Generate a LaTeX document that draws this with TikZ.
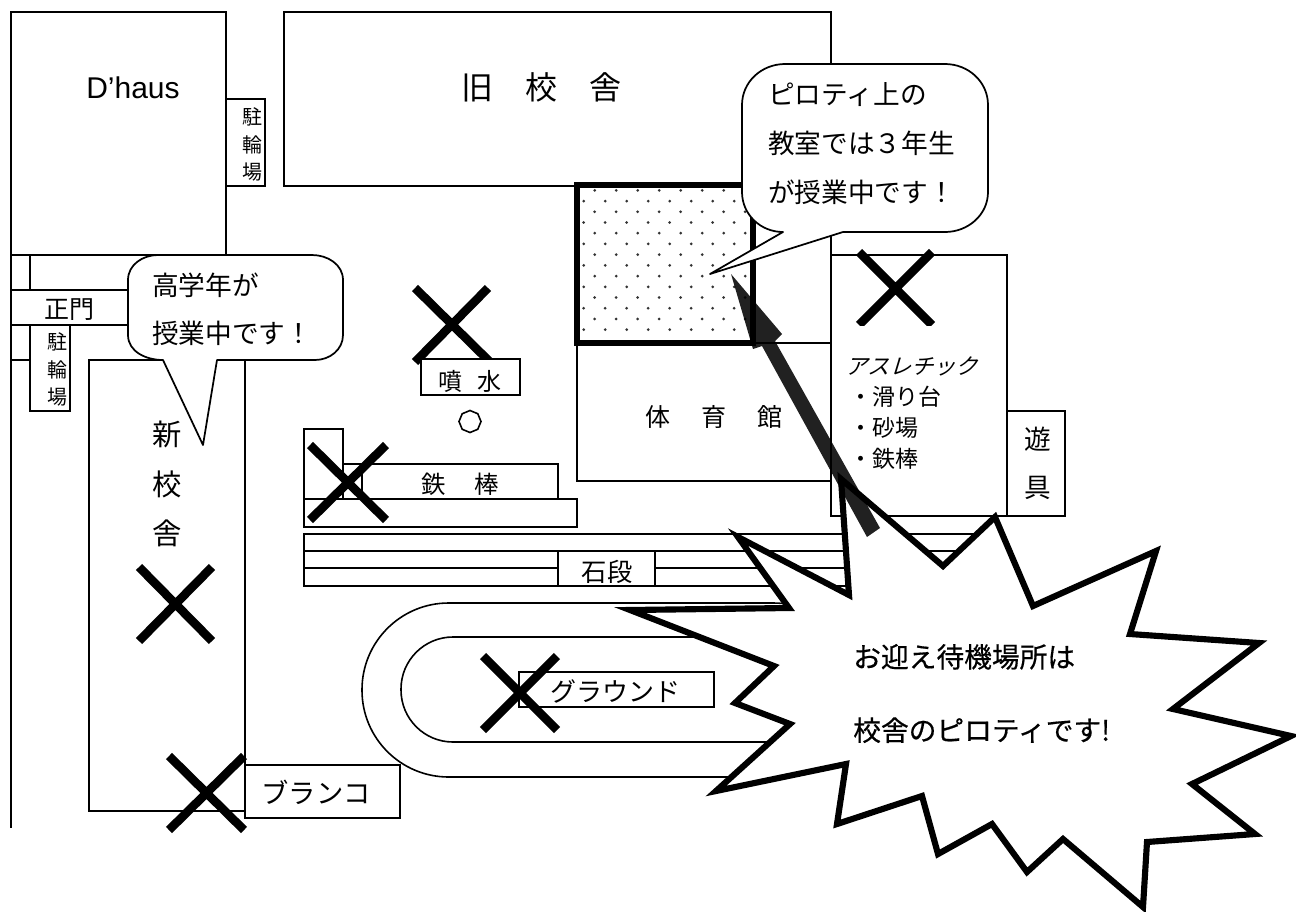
\documentclass[tikz,border=0pt]{standalone}
\usetikzlibrary{shapes.geometric}
\usepackage{fontspec}
\setmainfont{Noto Sans CJK JP}
\newfontfamily\latinf{Liberation Sans}
\newfontfamily\boldjp[FakeBold=0.5]{Noto Sans CJK JP}
\newcommand{\fz}[2]{\fontsize{#1pt}{#2pt}\selectfont}
\tikzset{
  wall/.style={draw=black,line width=1.2pt,fill=white},
  bigx/.style={draw=black,line width=6.5pt},
  callout/.style={draw=black,line width=1.3pt,fill=white,line join=round},
  lbl/.style={inner sep=0pt,align=center,text=black},
  lft/.style={inner sep=0pt,align=left,anchor=west,text=black}
}
\begin{document}
\begin{tikzpicture}[x=0.75pt,y=-0.75pt]
\useasboundingbox (0,0) rectangle (1296,911);
% ---- buildings
\draw[wall] (11,12) rectangle (226,255);
\draw[wall] (11,255) -- (245,255);
\draw[wall] (11,12) -- (11,828);
\draw[wall] (30,255) -- (30,290);
\draw[wall] (11,290) rectangle (140,325);
\draw[wall] (11,360) -- (30,360);
\draw[wall] (30,325) rectangle (70,411);
\draw[wall] (89,360) rectangle (245,811);
\draw[wall] (226,99) rectangle (265,186);
\draw[wall] (284,12) rectangle (831,186);
\draw[wall] (831,186) -- (831,255);
\draw[wall] (577,343) rectangle (831,481);
\draw[wall] (831,255) rectangle (1007,516);
\draw[wall] (1007,411) rectangle (1065,516);
\node[regular polygon,regular polygon sides=8,shape border rotate=22.5,draw=black,line width=1.2pt,minimum size=16.5pt,inner sep=0pt] (spout) at (470,421.5) {};
% ---- bars and steps
\draw[wall] (304,429) rectangle (343,499);
\draw[wall] (343,464) rectangle (558,499);
\draw[wall] (362,464) -- (362,499);
\draw[wall] (304,499) rectangle (577,527);
\draw[wall] (304,534) rectangle (985,586);
\draw[wall] (304,551) -- (985,551);
\draw[wall] (304,568) -- (985,568);
\draw[wall] (558,551) rectangle (655,586);
% ---- ground
\draw[wall,rounded corners=65pt] (362,603) rectangle (860,777);
\draw[wall,rounded corners=39pt] (401,637) rectangle (820,742);
\draw[wall] (519,672) rectangle (714,707);
\draw[wall] (245,765) rectangle (400,818);
% ---- piloti
\fill[white] (577,185) rectangle (753,343);
\begin{scope}
\clip (577,185) rectangle (753,343);
\foreach \i in {0,...,14}{
  \pgfmathsetmacro{\yy}{179.6+10.72*\i}
  \pgfmathsetmacro{\xs}{iseven(\i)?583.7:594.7}
  \foreach \k in {0,...,8}{
    \fill[black!80] ({\xs+21.5*\k},\yy) circle (1.5);
  }
}
\end{scope}
\draw[draw=black,line width=3.9pt,fill=none,line join=miter] (577,185) rectangle (753,343);
% ---- crosses
\draw[bigx] (415,288) -- (490,362) (488,288) -- (415,362);
\draw[bigx] (859,252) -- (932,325) (932,252) -- (859,325);
\fill[white] (840,325.5) rectangle (1000,345);
\draw[bigx] (139,567) -- (212,641) (212,567) -- (139,641);
\draw[bigx] (310,445) -- (386,520) (386,445) -- (310,520);
\draw[bigx] (483,656) -- (557,730) (557,656) -- (483,730);
\draw[bigx] (169,756) -- (244,830) (244,756) -- (169,830);
\draw[wall] (421,359) rectangle (520,395);
% ---- callouts
\draw[callout] (163,360) -- (203,445) -- (217,360)
  -- (315,360) to[out=0,in=-90] (343,335) -- (343,280) to[out=90,in=0] (312,255)
  -- (158,255) to[out=180,in=90] (128,280) -- (128,335) to[out=-90,in=180] (163,360) -- cycle;
\draw[callout] (783,232) -- (710,274) -- (843,232)
  -- (945,232) to[out=0,in=-90] (988,192) -- (988,105) to[out=90,in=0] (945,64)
  -- (785,64) to[out=180,in=90] (742,105) -- (742,192) to[out=-90,in=180] (783,232) -- cycle;
% ---- burst
\draw[draw=black,line width=4.6pt,fill=white,line join=miter,miter limit=20]
 (841,479) -- (943,566) -- (995,517) -- (1033,606) -- (1156,551) -- (1130,634)
 -- (1259,643) -- (1173,709) -- (1291,736) -- (1192,784) -- (1255,834) -- (1147,842)
 -- (1143,907) -- (1063,839) -- (1027,872) -- (992,824) -- (938,854) -- (922,796)
 -- (837,824) -- (846,764) -- (716,791) -- (790,724) -- (735,703) -- (774,666)
 -- (630,610) -- (789,608) -- (738,537) -- (849,595) -- cycle;
% ---- arrow
\fill[black,fill opacity=.87] (731,274) -- (782,334) -- (775,341) -- (880,528) -- (867,537)
  -- (762,346) -- (753,349) -- cycle;
% ---- texts
\node[lbl,font=\latinf\fz{22.5}{27}] (dhaus) at (133,88) {D’haus};
\node[lbl,font=\fz{24}{29}] (oldschool) at (541,87) {旧　校　舎};
\node[lbl,font=\fz{15}{20.6}] (bike1) at (252.5,144.5) {駐\\輪\\場};
\node[lbl,font=\fz{18.75}{22}] (gate) at (69,310) {正門};
\node[lbl,font=\fz{15}{20.6}] (bike2) at (57,369.5) {駐\\輪\\場};
\node[lft,font=\fz{20}{36}] (call1) at (152,309) {高学年が\\授業中です！};
\node[lft,font=\fz{20}{36.7}] (call2) at (768,144) {ピロティ上の\\教室では３年生\\が授業中です！};
\node[lbl,font=\fz{22}{37}] (newschool) at (167,484) {新\\校\\舎};
\node[lbl,font=\fz{18}{21}] (fountain) at (470,381) {噴 \kern6.5pt水};
\node[lbl,font=\fz{18.75}{22}] (gym) at (714,417) {体　\kern4.5pt育　\kern4.5pt館};
\node[lbl,font=\fz{18.3}{22}] (bar) at (460,484) {鉄　\kern3pt棒};
\node[lbl,font=\fz{19}{22}] (steps) at (607,571.5) {石段};
\node[lbl,font=\fz{19.5}{24}] (ground) at (615,691) {グラウンド};
\node[lbl,font=\fz{20.5}{25}] (swing) at (316,792) {ブランコ};
\node[lbl,font=\fz{20}{36}] (play) at (1038,463) {遊\\具};
\node[lbl,anchor=west,xslant=.3,font=\fz{16.5}{20}] (ath) at (848,366) {アスレチック};
\node[lft,font=\fz{17.25}{23.25}] (list) at (849.5,428) {・滑り台\\・砂場\\・鉄棒};
\node[lft,font=\boldjp\fz{20.8}{55}] (burst) at (853,693.5) {お迎え待機場所は\\校舎のピロティです!};
\end{tikzpicture}
\end{document}
